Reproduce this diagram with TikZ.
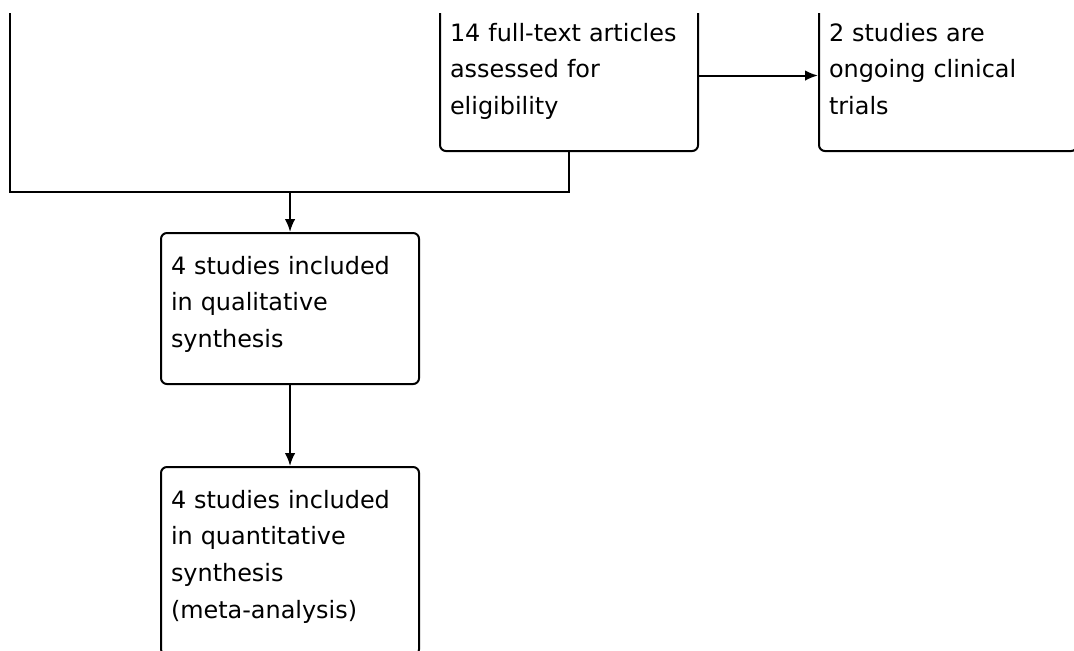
\documentclass[tikz,border=0pt]{standalone}
\usepackage{fontspec}
\setmainfont{DejaVu Sans}
\usetikzlibrary{arrows.meta,positioning}

\tikzset{
  flowbox/.style={draw, line width=0.5mm, rounded corners=0.15cm, anchor=north west,
    inner xsep=0.25cm, inner ysep=0pt, minimum width=6.45cm, text width=5.95cm,
    align=left, text height=1.025cm, font=\fontsize{17}{26.3}\selectfont},
  flowline/.style={line width=0.5mm},
  flowarrow/.style={flowline, -{Latex[length=3.2mm,width=2.6mm]}}
}

\begin{document}
\begin{tikzpicture}[x=0.025cm,y=-0.025cm]
\useasboundingbox (0,0) rectangle (1074,651);
\clip (0,13) rectangle (1074,651);

\node[flowbox, text depth=2.75cm] (fulltext) at (439,-1) {14 full-text articles\\assessed for\\eligibility};
\node[flowbox, text depth=2.75cm, minimum width=6.375cm] (ongoing) at (818,-1) {2 studies are\\ongoing clinical\\trials};
\node[flowbox, text depth=2.75cm] (qual) at (160,232) {4 studies included\\in qualitative\\synthesis};
\node[flowbox, text depth=3.675cm] (quant) at (160,466) {4 studies included\\in quantitative\\synthesis\\(meta-analysis)};

\coordinate (leftend) at (10,0);
\coordinate (bend) at (10,192);
\coordinate (join) at (qual.north |- bend);

\draw[flowline] (fulltext.south) |- (bend) -- (leftend);
\draw[flowarrow] (join) -- (qual.north);
\draw[flowarrow] (fulltext.east) -- (ongoing.west);
\draw[flowarrow] (qual.south) -- (quant.north);
\end{tikzpicture}
\end{document}
